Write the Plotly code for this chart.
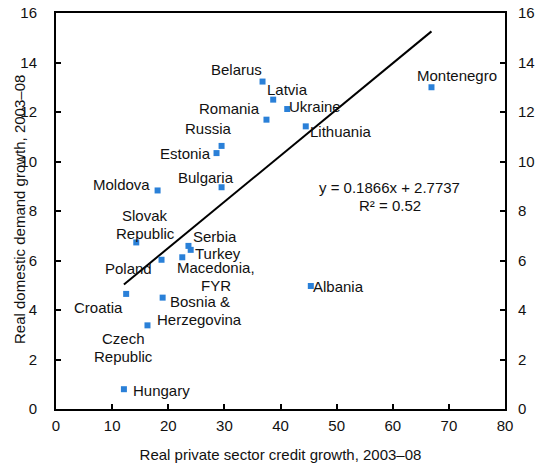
import plotly.graph_objects as go

# Real private sector credit growth vs. real domestic demand growth, 2003-08
countries = ["Belarus", "Latvia", "Ukraine", "Romania", "Russia", "Estonia", "Bulgaria",
             "Moldova", "Lithuania", "Montenegro", "Slovak<br>Republic", "Serbia", "Turkey",
             "Poland", "Macedonia,<br>FYR", "Croatia", "Bosnia &<br>Herzegovina",
             "Czech<br>Republic", "Hungary", "Albania"]
credit_growth = [36.8, 38.7, 41.2, 37.5, 29.5, 28.6, 29.5,
                 18.1, 44.5, 66.9, 14.3, 23.6, 24.0,
                 18.8, 22.5, 12.5, 19.0,
                 16.3, 12.1, 45.4]
demand_growth = [13.23, 12.5, 12.12, 11.69, 10.63, 10.34, 8.96,
                 8.83, 11.42, 13.0, 6.73, 6.59, 6.43,
                 6.03, 6.13, 4.65, 4.5,
                 3.38, 0.80, 4.97]

# Linear fit reported on the chart
slope, intercept, r_squared = 0.1866, 2.7737, 0.52

# Label offsets (pixels) of each label's centre relative to its marker
label_dx = [-26, 14, 28, -37, -13, -31, -16, -36, 35, 26, 9, 27, 27, -33, 34, -28, 37, -24, 38, 28]
label_dy = [12, 10, 3, 11, 17, 0, 10, 6, -5, 12, 18, 9, -4, -9, -19, -14, -13, -22, -1, -1]
LINE_GAP = 17.7  # px between lines of a wrapped label

FONT = "Liberation Sans, Arial, sans-serif"
TEXT = "#111111"
BLUE = "#2a80d8"

fig = go.Figure()

x_lo, x_hi = min(credit_growth), max(credit_growth)
fig.add_trace(go.Scatter(
    x=[x_lo, x_hi], y=[slope * x_lo + intercept, slope * x_hi + intercept],
    mode="lines", line=dict(color="black", width=2), hoverinfo="skip", showlegend=False))

fig.add_trace(go.Scatter(
    x=credit_growth, y=demand_growth, mode="markers",
    text=[c.replace("<br>", " ") for c in countries],
    marker=dict(symbol="square", size=6, color=BLUE), showlegend=False))

# transparent copy on the right-hand axis so its ticks are drawn
fig.add_trace(go.Scatter(
    x=credit_growth, y=demand_growth, mode="markers", yaxis="y2",
    marker=dict(opacity=0), hoverinfo="skip", showlegend=False))

for name, x, y, dx, dy in zip(countries, credit_growth, demand_growth, label_dx, label_dy):
    lines = name.split("<br>")
    n = len(lines)
    for i, line in enumerate(lines):
        shift = dy + (n - 1) / 2 * LINE_GAP - i * LINE_GAP
        fig.add_annotation(x=x, y=y, text=line, showarrow=False, xshift=dx, yshift=shift,
                           font=dict(family=FONT, size=15, color=TEXT))

fig.add_annotation(x=59.5, y=8.6, text=f"y = {slope}x + {intercept}", showarrow=False,
                   yshift=LINE_GAP / 2, font=dict(family=FONT, size=15, color=TEXT))
fig.add_annotation(x=59.5, y=8.6, text=f"R² = {r_squared}", showarrow=False,
                   yshift=-LINE_GAP / 2, font=dict(family=FONT, size=15, color=TEXT))

# vertical axis title
fig.add_annotation(xref="paper", yref="paper", x=0, y=0.5, xshift=-37, yshift=1,
                   xanchor="center", yanchor="middle",
                   text="Real domestic demand growth, 2003–08", textangle=-90,
                   showarrow=False, font=dict(family=FONT, size=15, color=TEXT))

axis_common = dict(ticks="inside", ticklen=5, tickwidth=1.5, tickcolor="black",
                   showline=True, linecolor="black", linewidth=2, showgrid=False,
                   zeroline=False, automargin=False,
                   tickfont=dict(family=FONT, size=15, color=TEXT))

fig.update_layout(
    width=535, height=468,
    margin=dict(l=56, r=30, t=13, b=59),
    plot_bgcolor="white", paper_bgcolor="white",
    xaxis=dict(range=[0, 80], dtick=10, mirror=True, ticklabelstandoff=2,
               title=dict(text="Real private sector credit growth, 2003–08",
                          font=dict(family=FONT, size=15, color=TEXT), standoff=16),
               **axis_common),
    yaxis=dict(range=[0, 16], dtick=2, mirror=True, ticklabelstandoff=14, **axis_common),
    yaxis2=dict(range=[0, 16], dtick=2, overlaying="y", side="right", ticklabelstandoff=8,
                **axis_common),
)

fig.write_html("out.html")
